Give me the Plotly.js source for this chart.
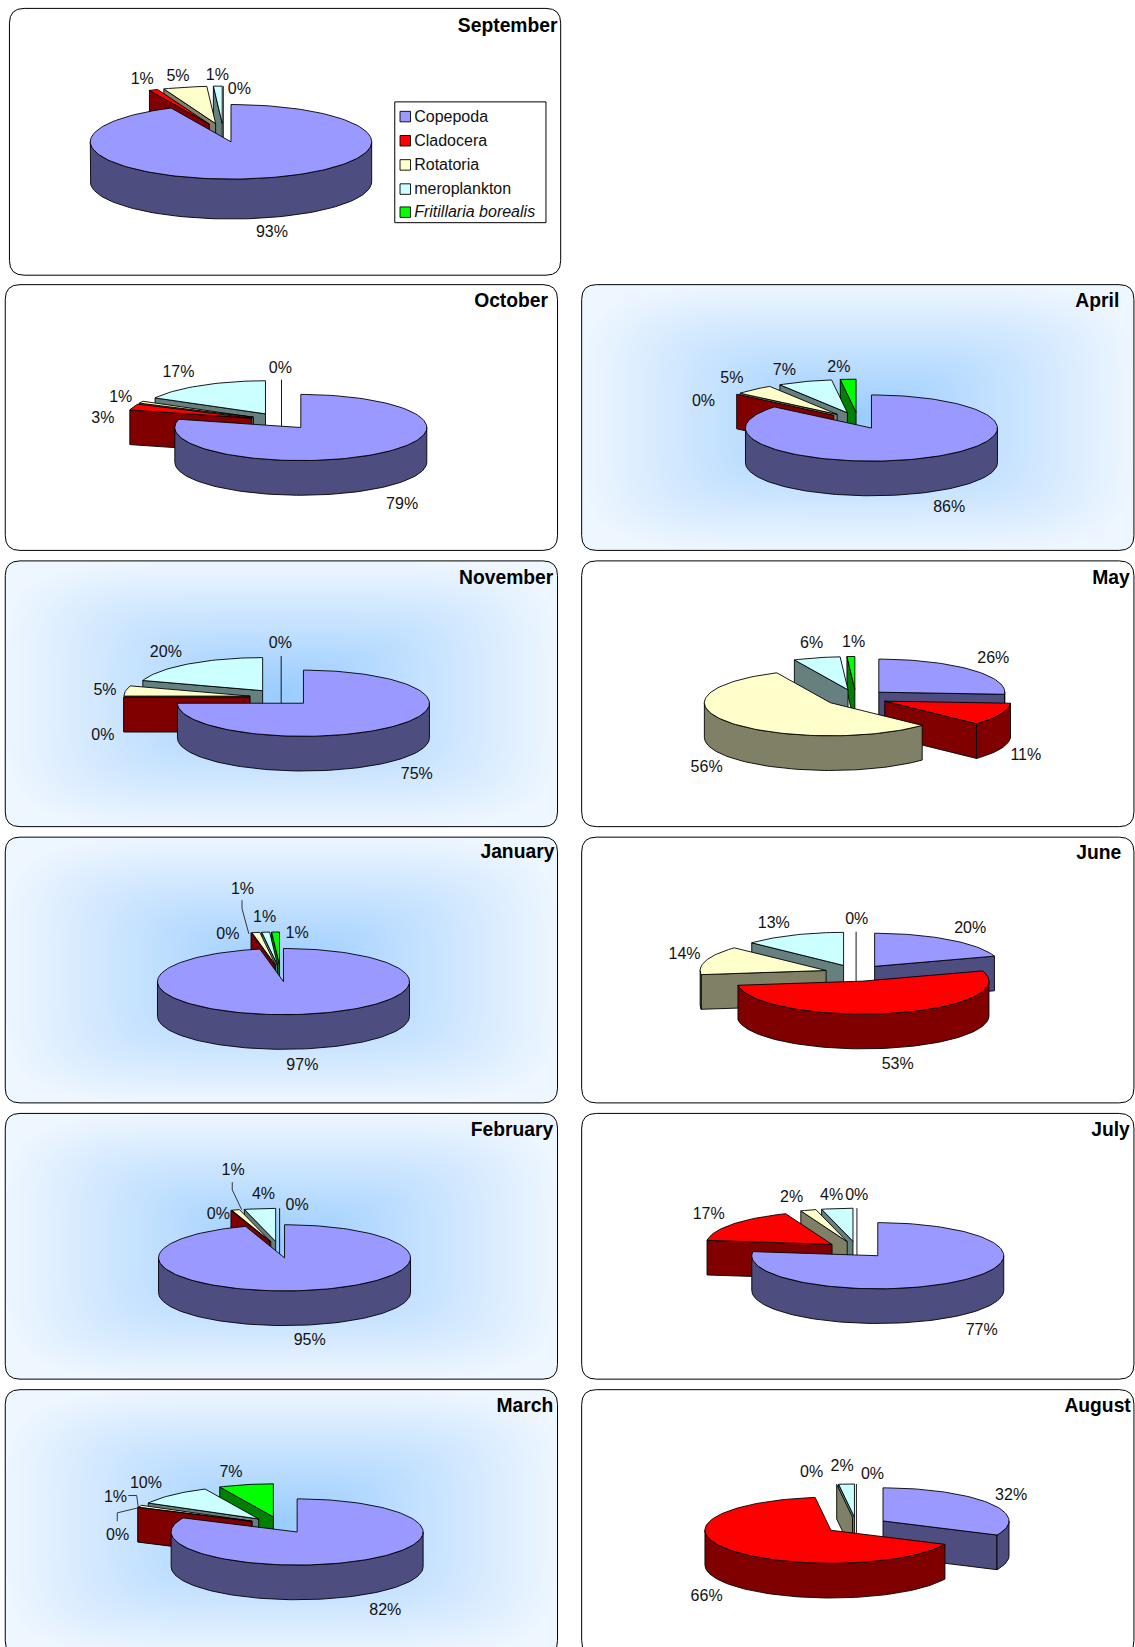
<!DOCTYPE html>
<html>
<head>
<meta charset="utf-8">
<script src="https://cdn.plot.ly/plotly-3.0.1.min.js"></script>
<style>html,body{margin:0;padding:0;background:#fff}#chart{width:1135px;height:1647px}</style>
</head>
<body>
<div id="chart"></div>
<script>
// Share (%) of each zooplankton group per month
const categories = ['Copepoda', 'Cladocera', 'Rotatoria', 'meroplankton', 'Fritillaria borealis'];
const september = [93, 1, 5, 1, 0];
const october   = [79, 3, 1, 17, 0];
const november  = [75, 0, 5, 20, 0];
const january   = [97, 0, 1, 1, 1];
const february  = [95, 0, 1, 4, 0];
const march     = [82, 0, 1, 10, 7];
const april     = [86, 0, 5, 7, 2];
const may       = [26, 11, 56, 6, 1];
const june      = [20, 53, 14, 13, 0];
const july      = [77, 17, 2, 4, 0];
const august    = [32, 66, 0, 2, 0];

// Face colours of each group: lit top and shaded wall
const topColors  = ['#9999FF', '#FF0000', '#FFFFCC', '#CCFFFF', '#00FF00'];
const wallColors = ['#4D4D80', '#800000', '#808066', '#668080', '#008000'];

// Panel layout: frame, title anchor, centre of the Copepoda wedge, label anchors (axis units)
const LX = 5, RX = 554, W = 526, H = 253;
const panels = [
  {name:'September', v:september, x:9,  y:8,    w:525, grad:false, tx:531,  ty:24,   cx:220, cy:135,  rx:134, ry:35.5, d:38,
   lx:[259,135.5,169.5,207,228], ly:[220,75,72,71,84]},
  {name:'October',   v:october,   x:LX, y:271,  grad:false, tx:522,  ty:286,  cx:286.5, cy:407,
   lx:[383,98,115,170,267], ly:[479,397,377,354,350]},
  {name:'November',  v:november,  x:LX, y:534,  grad:true,  tx:527,  ty:550,  cx:289, cy:669.5,
   lx:[397,98,100,158,267], ly:[736,699,656,620,612]},
  {name:'January',   v:january,   x:LX, y:797,  grad:true,  tx:528,  ty:811,  cx:270, cy:934.5,
   lx:[288,217,231,252,283], ly:[1013,889,846,872,888]},
  {name:'February',  v:february,  x:LX, y:1060, grad:true,  tx:527,  ty:1075, cx:271, cy:1197.5,
   lx:[295,208,222,251,283], ly:[1275,1155,1113,1136,1147]},
  {name:'March',     v:march,     x:LX, y:1323, grad:true,  tx:527,  ty:1338, cx:283, cy:1458.5,
   lx:[367,112,110,139,220], ly:[1532,1461,1425,1411,1401]},
  {name:'April',     v:april,     x:RX, y:271,  grad:true,  tx:1066, ty:286,  cx:830, cy:407.5,
   lx:[904,670,697,747,799], ly:[482,381,359,352,349]},
  {name:'May',       v:may,       x:RX, y:534,  grad:false, tx:1076, ty:550,  cx:837, cy:659,
   lx:[946,977,673,773,813], ly:[626,718,730,612,611]},
  {name:'June',      v:june,      x:RX, y:797,  grad:false, tx:1068, ty:812,  cx:833, cy:920,
   lx:[924,855,652,737,816], ly:[883,1012,908,878,874]},
  {name:'July',      v:july,      x:RX, y:1060, grad:false, tx:1076, ty:1075, cx:836, cy:1195.5,
   lx:[935,675,754,792,816], ly:[1266,1155,1139,1137,1137]},
  {name:'August',    v:august,    x:RX, y:1323, grad:false, tx:1077, ty:1338, cx:841, cy:1448,
   lx:[963,673,773,802,831], ly:[1423,1519,1401,1395,1403]}
];

// Leader lines tying crowded labels to their wedges
const leaders = [
  {x:[230.5,230.5,237], y:[857,865,889]},
  {x:[221.2,221.2,230.2], y:[1125.4,1132.7,1151.8]},
  {x:[122.2,130.2,131.7], y:[1423.8,1423.8,1434.9]},
  {x:[111.7,111.7,131.7], y:[1448.3,1440.3,1435.5]}
];

const EXPLODE = 0.25, RX_DEF = 120, RY_DEF = 31.5, DEPTH_DEF = 33, DEG = Math.PI / 180;
const LABEL_SHIFT = 1.5;
const traces = [];

function poly(xs, ys, fill) {
  traces.push({type:'scatter', mode:'lines', x:xs, y:ys, fill:'toself', fillcolor:fill,
    line:{color:'#000', width:0.9}, hoverinfo:'skip', showlegend:false});
}

// Sweep along the rim from angle a to angle b (degrees clockwise from 12 o'clock)
function rim(c, a, b, rx, ry, dy) {
  const n = Math.max(1, Math.ceil(Math.abs(b - a) / 2)), xs = [], ys = [];
  for (let i = 0; i <= n; i++) {
    const t = (a + (b - a) * i / n) * DEG;
    xs.push(c[0] + rx * Math.sin(t));
    ys.push(c[1] - ry * Math.cos(t) + dy);
  }
  return [xs, ys];
}

function cutWall(apex, ang, rx, ry, d, color) {
  const t = ang * DEG, ex = apex[0] + rx * Math.sin(t), ey = apex[1] - ry * Math.cos(t);
  if (Math.abs(Math.sin(t)) < 1e-6) {
    // A cut seen edge-on collapses to one vertical stroke
    traces.push({type:'scatter', mode:'lines', x:[ex, ex], y:[ey, apex[1] + d],
      line:{color:'#000', width:0.9}, hoverinfo:'skip', showlegend:false});
    return;
  }
  poly([apex[0], ex, ex, apex[0], apex[0]], [apex[1], ey, ey + d, apex[1] + d, apex[1]], color);
}

function drawPie(p) {
  const rx = p.rx || RX_DEF, ry = p.ry || RY_DEF, d = p.d || DEPTH_DEF;
  const total = p.v.reduce((s, a) => s + a, 0);
  // Angular extents of every wedge
  let acc = 0;
  const wedges = p.v.map((val, i) => {
    const a = acc / total * 360; acc += val;
    const b = acc / total * 360;
    return {i, a, b, mid: (a + b) / 2};
  });
  // The centre is recovered from the exploded Copepoda wedge
  const m0 = wedges[0].mid * DEG;
  const cx = p.cx - EXPLODE * rx * Math.sin(m0), cy = p.cy + EXPLODE * ry * Math.cos(m0);
  wedges.forEach(w => {
    const m = w.mid * DEG;
    w.apex = [cx + EXPLODE * rx * Math.sin(m), cy - EXPLODE * ry * Math.cos(m)];
  });
  // Paint from the back of the scene to the front
  wedges.slice().sort((u, w) => u.apex[1] - w.apex[1]).forEach(w => {
    const top = topColors[w.i], wall = wallColors[w.i], zero = w.b - w.a < 1e-6;
    if (zero) { cutWall(w.apex, w.a, rx, ry, d, wall); return; }
    if (Math.sin(w.a * DEG) < 0) cutWall(w.apex, w.a, rx, ry, d, wall);
    if (Math.sin(w.b * DEG) > 0) cutWall(w.apex, w.b, rx, ry, d, wall);
    const fa = Math.max(w.a, 90), fb = Math.min(w.b, 270);
    if (fb > fa) {
      const up = rim(w.apex, fa, fb, rx, ry, 0), lo = rim(w.apex, fb, fa, rx, ry, d);
      poly(up[0].concat(lo[0], up[0][0]), up[1].concat(lo[1], up[1][0]), wall);
    }
    const arc = rim(w.apex, w.a, w.b, rx, ry, 0);
    poly([w.apex[0]].concat(arc[0], w.apex[0]), [w.apex[1]].concat(arc[1], w.apex[1]), top);
  });
}

panels.forEach(drawPie);

leaders.forEach(l => traces.push({type:'scatter', mode:'lines', x:l.x, y:l.y,
  line:{color:'#222', width:0.9}, hoverinfo:'skip', showlegend:false}));

const FONT = 'Liberation Sans, Arial, sans-serif';

// Percentage labels come straight from the series values
panels.forEach(p => traces.push({type:'scatter', mode:'text', x:p.lx, y:p.ly.map(y => y + LABEL_SHIFT),
  text:p.v.map(v => v + '%'), textposition:'middle center',
  textfont:{family:FONT, size:16, color:'#111'}, hoverinfo:'skip', showlegend:false, name:p.name}));

// Panel titles, right-aligned on their anchor
panels.forEach(p => traces.push({type:'scatter', mode:'text', x:[p.tx], y:[p.ty + LABEL_SHIFT],
  text:['<b>' + p.name + '</b>'], textposition:'middle left',
  textfont:{family:FONT, size:19.3, color:'#000'}, hoverinfo:'skip', showlegend:false}));

// Legend inside the September panel
const legendRows = [111, 134, 157, 180, 202];
categories.forEach((c, i) => {
  traces.push({type:'scatter', mode:'markers', x:[386], y:[legendRows[i]],
    marker:{symbol:'square', size:10.5, color:topColors[i], line:{color:'#000', width:0.9}},
    hoverinfo:'skip', showlegend:false, name:c});
  traces.push({type:'scatter', mode:'text', x:[394.5], y:[legendRows[i] + 1],
    text:[i === 4 ? '<i>' + c + '</i>' : c], textposition:'middle right',
    textfont:{family:FONT, size:16, color:'#111'}, hoverinfo:'skip', showlegend:false});
});

// Rounded frame outline in axis units
function framePath(x, y, w, h, r) {
  const X = x + w, Y = y + h;
  return `M ${x + r} ${y} L ${X - r} ${y} Q ${X} ${y} ${X} ${y + r} L ${X} ${Y - r} Q ${X} ${Y} ${X - r} ${Y} ` +
         `L ${x + r} ${Y} Q ${x} ${Y} ${x} ${Y - r} L ${x} ${y + r} Q ${x} ${y} ${x + r} ${y} Z`;
}

// Blue gradient that fades from the middle of a panel to its rim
function gradientImage(w, h, r) {
  const cv = document.createElement('canvas');
  cv.width = w; cv.height = h;
  const g = cv.getContext('2d');
  const data = g.createImageData(w, h);
  const inner = [153, 204, 255], outer = [238, 246, 255], P = 5;
  for (let j = 0; j < h; j++) for (let i = 0; i < w; i++) {
    const dx = Math.abs(i - w / 2) / (w / 2), dy = Math.abs(j - h / 2) / (h / 2);
    const t = Math.min(1, Math.pow(Math.pow(dx, P) + Math.pow(dy, P), 1 / P));
    const k = 4 * (j * w + i);
    for (let c = 0; c < 3; c++) data.data[k + c] = inner[c] + (outer[c] - inner[c]) * t;
    data.data[k + 3] = 255;
  }
  g.putImageData(data, 0, 0);
  // Trim the corners to the frame's rounding
  g.globalCompositeOperation = 'destination-in';
  g.beginPath();
  g.moveTo(r, 0); g.lineTo(w - r, 0); g.quadraticCurveTo(w, 0, w, r);
  g.lineTo(w, h - r); g.quadraticCurveTo(w, h, w - r, h);
  g.lineTo(r, h); g.quadraticCurveTo(0, h, 0, h - r);
  g.lineTo(0, r); g.quadraticCurveTo(0, 0, r, 0);
  g.closePath(); g.fill();
  return cv.toDataURL('image/png');
}

const shapes = [], images = [];
panels.forEach(p => {
  const w = p.w || W;
  if (p.grad) images.push({source:gradientImage(w * 2, H * 2, 28), xref:'x', yref:'y', x:p.x, y:p.y,
    sizex:w, sizey:H, sizing:'stretch', xanchor:'left', yanchor:'top', layer:'below'});
  shapes.push({type:'path', path:framePath(p.x, p.y, w, H + (p.name === 'September' ? 1 : 0), 14), xref:'x', yref:'y',
    line:{color:'#000', width:1}, layer:'above'});
});
shapes.push({type:'rect', xref:'x', yref:'y', x0:376, x1:520, y0:97, y1:212,
  line:{color:'#000', width:1}, fillcolor:'#fff', layer:'below'});

const layout = {
  width:1135, height:1647, margin:{l:0, r:0, t:0, b:0},
  paper_bgcolor:'#fff', plot_bgcolor:'rgba(0,0,0,0)', showlegend:false,
  xaxis:{range:[0, 1081], visible:false, fixedrange:true},
  yaxis:{range:[1568, 0], visible:false, fixedrange:true},
  shapes, images
};
Plotly.newPlot('chart', traces, layout, {staticPlot:true, displayModeBar:false});
</script>
</body>
</html>
